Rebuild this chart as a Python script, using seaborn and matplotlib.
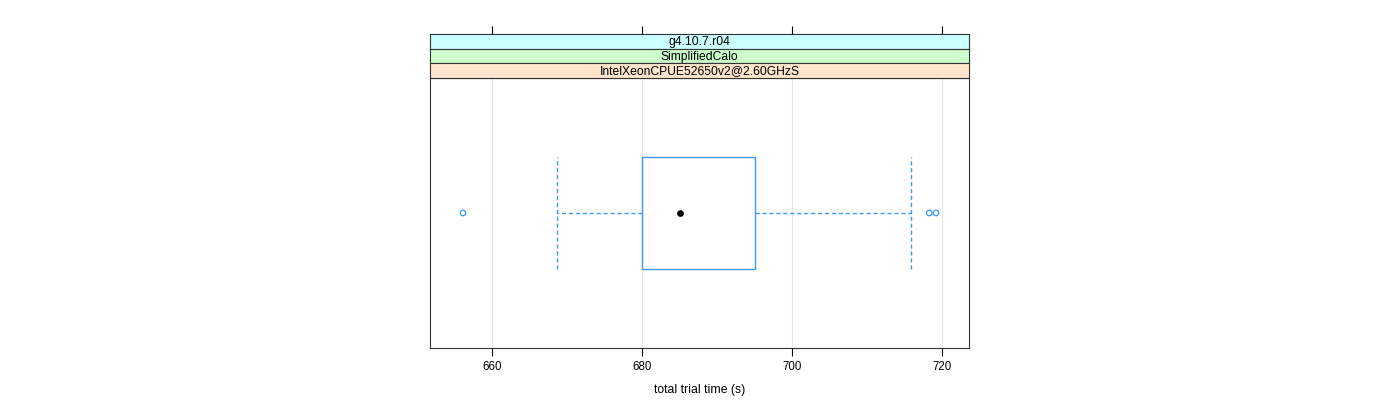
import matplotlib
matplotlib.use("Agg")
import matplotlib.pyplot as plt
import seaborn as sns
import pandas as pd

# ---- data ----
strip_labels = ["g4.10.7.r04", "SimplifiedCalo", "IntelXeonCPUE52650v2@2.60GHzS"]
strip_colors = ["#ccffff", "#ccffcc", "#ffe5cc"]
box_q1 = 680.0
box_median = 685.1
box_q3 = 695.0
whisker_low = 668.7
whisker_high = 715.8
outliers = [656.1, 718.3, 719.2]
x_ticks = [660, 680, 700, 720]
x_label = "total trial time (s)"

sns.set_theme(style="white")
plt.rcParams["font.family"] = ["Liberation Sans", "DejaVu Sans"]
plt.rcParams["text.color"] = "black"
plt.rcParams["axes.labelcolor"] = "black"
plt.rcParams["xtick.color"] = "black"
plt.rcParams["xtick.labelcolor"] = "black"

fig = plt.figure(figsize=(14, 4), dpi=100)
ax = fig.add_axes([430 / 1400, 52 / 400, 539 / 1400, 270 / 400])

blue = "#3d98ff"
stats = [dict(med=box_median, q1=box_q1, q3=box_q3,
              whislo=whisker_low, whishi=whisker_high, fliers=[])]
ax.bxp(stats, positions=[1], widths=0.5, orientation="horizontal",
       showfliers=False, capwidths=0.5,
       boxprops=dict(color=blue, linewidth=1),
       whiskerprops=dict(color=blue, linestyle=(0, (3, 2)), linewidth=1),
       capprops=dict(color=blue, linestyle=(0, (3, 2)), linewidth=1),
       medianprops=dict(linestyle="none"))

out_df = pd.DataFrame({"x": outliers, "y": [1] * len(outliers)})
sns.scatterplot(data=out_df, x="x", y="y", ax=ax, marker="o", s=16,
                facecolor="none", edgecolor=blue, linewidth=0.9, zorder=5)
med_df = pd.DataFrame({"x": [box_median], "y": [1]})
sns.scatterplot(data=med_df, x="x", y="y", ax=ax, marker="o", s=20,
                color="black", edgecolor="black", zorder=6)

ax.set_xlim(651.7, 723.6)
ax.set_ylim(0.4, 1.6)
ax.set_yticks([])
ax.set_ylabel("")
ax.set_xticks(x_ticks)
ax.set_xticklabels([str(t) for t in x_ticks], fontsize=8.3, color="black")
for t in x_ticks:
    ax.axvline(t, color="#e6e6e6", linewidth=0.8, zorder=0)
ax.tick_params(axis="x", which="both", bottom=True, top=False, direction="out",
               length=6, width=0.8, color="black", labelsize=8.3, pad=3)
ax.set_xlabel(x_label, fontsize=8.8, labelpad=8, color="black")
for s in ax.spines.values():
    s.set_color("#333333")
    s.set_linewidth(0.8)

# strips
strip_h = 14.7 / 400
base = 322 / 400
for i, (lab, col) in enumerate(zip(strip_labels, strip_colors)):
    y0 = base + (2 - i) * strip_h
    sax = fig.add_axes([430 / 1400, y0, 539 / 1400, strip_h])
    sax.set_facecolor(col)
    sax.set_xticks([])
    sax.set_yticks([])
    for s in sax.spines.values():
        s.set_color("#333333")
        s.set_linewidth(0.8)
    sax.text(0.5, 0.45, lab, ha="center", va="center", fontsize=8.7,
             color="black", transform=sax.transAxes)

# top ticks above strips
tax = fig.add_axes([430 / 1400, base + 3 * strip_h, 539 / 1400, 0.0001])
tax.set_xlim(651.7, 723.6)
tax.set_xticks(x_ticks)
tax.set_yticks([])
tax.tick_params(axis="x", bottom=False, top=True, labelbottom=False,
                labeltop=False, direction="out", length=6, width=0.8, color="black")
for s in tax.spines.values():
    s.set_visible(False)
tax.patch.set_alpha(0)

fig.savefig("out.png", dpi=100, facecolor="white")
